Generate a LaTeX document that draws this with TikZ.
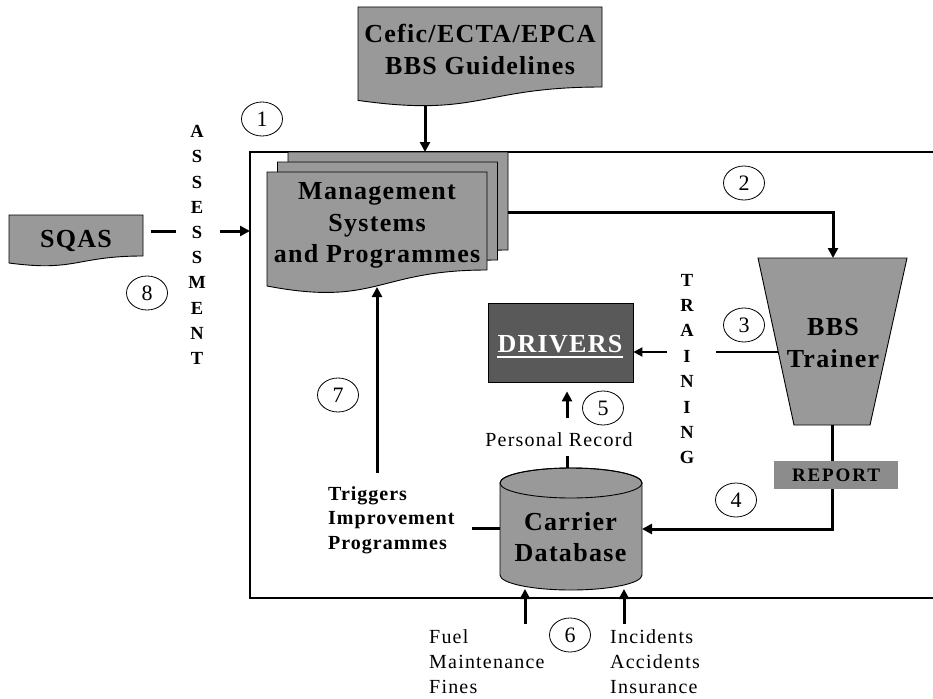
\documentclass[tikz,border=0pt]{standalone}
\usepackage{fontspec}
\setmainfont{Liberation Serif}
\newfontfamily\bigfont[LetterSpace=5]{Liberation Serif}
\newfontfamily\widefont[LetterSpace=10]{Liberation Serif}
\newfontfamily\midfont[LetterSpace=6]{Liberation Serif}
\usetikzlibrary{arrows.meta,shapes.geometric}
\definecolor{docgray}{RGB}{153,153,153}
\definecolor{drvgray}{RGB}{89,89,89}
\definecolor{repgray}{RGB}{140,140,140}

\begin{document}
\begin{tikzpicture}[x=1pt,y=-1pt,
  shapeline/.style={draw=black, line width=0.9pt, fill=docgray},
  flow/.style={line width=3pt, -{Triangle[length=10pt,width=10pt]}},
  flowplain/.style={line width=3pt},
  thinflow/.style={line width=1.8pt},
  numtag/.style={ellipse, draw, line width=0.8pt, minimum width=41pt, minimum height=34pt,
                 inner sep=0pt, font=\fontsize{22}{22}\selectfont},
  bigtext/.style={font=\bigfont\bfseries\fontsize{26}{31.5}\selectfont, align=center, inner sep=0pt},
  lettercol/.style={font=\bfseries\fontsize{18.5}{25.2}\selectfont, align=center, inner sep=0pt},
  smalltext/.style={font=\midfont\fontsize{20}{25}\selectfont, align=left, inner sep=0pt},
  smallbold/.style={font=\bigfont\bfseries\fontsize{20}{24.5}\selectfont, align=left, inner sep=0pt},
]
\useasboundingbox (0,0) rectangle (933,698);

% outer frame (open to the right)
\draw[line width=1.2pt] (933,152) -- (250,152) -- (250,598) -- (933,598);

% guidelines document
\path[shapeline] (358,7) -- (602,7) -- (602,87) .. controls (480,87) and (480,117.7) .. (358,100.4) -- cycle;
\node[bigtext] (cefic) at (480,49.5) {Cefic/ECTA/EPCA\\BBS Guidelines};
\coordinate (cefic-out) at (425,106);
\coordinate (frame-top) at (425,152);
\draw[flow] (cefic-out) -- (frame-top);

% stacked management documents
\path[shapeline] (288,152) -- (508,152) -- (508,250) .. controls (398,250) and (398,287) .. (288,266) -- cycle;
\path[shapeline] (277.5,162) -- (497.5,162) -- (497.5,260) .. controls (387.5,260) and (387.5,297) .. (277.5,276) -- cycle;
\path[shapeline] (267,172) -- (487,172) -- (487,270) .. controls (377,270) and (377,307) .. (267,286) -- cycle;
\node[bigtext] (msp) at (377,225.5) {Management\\Systems\\and Programmes};
\coordinate (msp-e) at (508,212);
\coordinate (msp-in) at (377,287);

% SQAS document and assessment link
\path[shapeline] (9,215) -- (143,215) -- (143,256) .. controls (76,256) and (76,272) .. (9,263) -- cycle;
\node[bigtext, anchor=base] (sqas) at (76,247) {SQAS};
\coordinate (sqas-e) at (143,231);
\coordinate (frame-w) at (250,231);
\draw[flowplain] ([xshift=8pt]sqas-e) -- ([xshift=33pt]sqas-e);
\draw[flow] ([xshift=-30pt]frame-w) -- (frame-w);
\node[lettercol] (assess) at (197,245) {A\\S\\S\\E\\S\\S\\M\\E\\N\\T};

% BBS trainer
\path[shapeline] (758,258) -- (907,258) -- (870,425) -- (794,425) -- cycle;
\node[bigtext] (trainer) at (833,343) {BBS\\Trainer};
\coordinate (trainer-top) at (833,258);
\coordinate (trainer-bot) at (832,425);
\coordinate (trainer-w) at (778,352);
\draw[flow] (msp-e) -- (833,212) -- (trainer-top);

% drivers
\node[fill=drvgray, draw, line width=0.8pt, minimum width=145pt, minimum height=79pt, inner sep=0pt]
  (drivers) at (560.5,342.5) {};
\node[bigtext, anchor=base, text=white] (drvtext) at (560,352) {DRIVERS};
\draw[white, line width=1.8pt] ([yshift=-5pt]drvtext.base west) -- ([yshift=-5pt]drvtext.base east);

% training link
\draw[thinflow] (trainer-w) -- (716,352);
\draw[thinflow, -{Triangle[length=9pt,width=9pt]}] (667,352) -- (drivers.east |- trainer-w);
\node[lettercol, font=\bfseries\fontsize{18.5}{25.4}\selectfont] (training) at (687,369) {T\\R\\A\\I\\N\\I\\N\\G};

% carrier database cylinder
\path[shapeline] (500,483) -- (500,575) arc[start angle=180, end angle=360, x radius=71pt, y radius=15pt]
  -- (642,483) arc[start angle=0, end angle=180, x radius=71pt, y radius=15pt] -- cycle;
\draw[line width=0.9pt] (571,483) ellipse[x radius=71pt, y radius=15pt];
\node[bigtext] (db) at (570.5,537) {Carrier\\Database};
\coordinate (db-e) at (642,529);
\coordinate (db-w) at (500,528);
\coordinate (db-n) at (567,468);

% report path
\draw[flow] (trainer-bot) -- (832,529) -- (db-e);
\node[fill=repgray, minimum width=124pt, minimum height=28pt, inner sep=0pt,
      font=\widefont\bfseries\fontsize{19}{20}\selectfont] (report) at (836,475) {REPORT};

% personal record
\draw[flowplain] (db-n) -- (567,456);
\node[smalltext, anchor=base] (precord) at (559,446) {Personal Record};
\draw[flow] (567,418) -- ([yshift=-9pt]drivers.south -| db-n);

% improvement triggers
\draw[flowplain] (db-w) -- (472,528);
\node[smallbold, anchor=north west] (triggers) at (328,486) {Triggers\\Improvement\\Programmes};
\draw[flow] (377,473) -- (msp-in);

% inputs to the database
\draw[flow] (525,624) -- (525,589);
\draw[flow] (624,624) -- (624,589);
\node[smalltext, anchor=north west] (inputs-l) at (429,629) {Fuel\\Maintenance\\Fines};
\node[smalltext, anchor=north west] (inputs-r) at (610,629) {Incidents\\Accidents\\Insurance};

% step numbers
\node[numtag] (n1) at (262,119) {1};
\node[numtag] (n2) at (744,183) {2};
\node[numtag] (n3) at (744,325) {3};
\node[numtag] (n4) at (736,500) {4};
\node[numtag] (n5) at (603,408) {5};
\node[numtag] (n6) at (570,635) {6};
\node[numtag] (n7) at (338,395) {7};
\node[numtag] (n8) at (147,293) {8};
\end{tikzpicture}
\end{document}
